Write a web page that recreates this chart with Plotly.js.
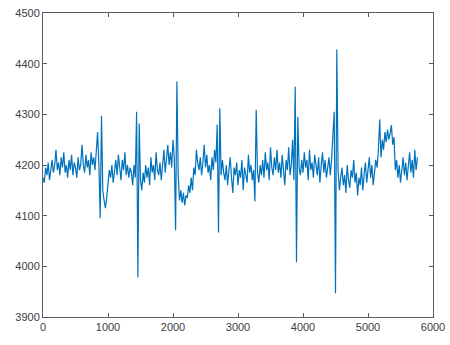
<!DOCTYPE html>
<html>
<head>
<meta charset="utf-8">
<script src="https://cdn.plot.ly/plotly-3.0.1.min.js"></script>
<style>html,body{margin:0;padding:0;background:#fff;}#chart{width:450px;height:345px;}</style>
</head>
<body>
<div id="chart"></div>
<script>
// Sample spacing (x units) and start of the signal
var xStart = 0;
var xStep = 20;

// Signal values, one per sample
var signal = [
  4175,4165,4195,4180,4205,4170,4190,4210,4185,4200,
  4230,4190,4205,4180,4215,4195,4225,4185,4200,4175,
  4210,4190,4220,4180,4205,4195,4175,4215,4190,4200,
  4240,4200,4185,4220,4195,4210,4180,4225,4200,4215,
  4190,4230,4265,4200,4095,4297,4150,4130,4115,4135,
  4160,4190,4175,4200,4165,4185,4210,4180,4220,4195,
  4170,4210,4190,4225,4180,4200,4175,4195,4185,4160,
  4200,4175,4305,3978,4282,4170,4150,4185,4165,4200,
  4175,4195,4160,4215,4185,4200,4170,4225,4190,4180,
  4205,4170,4195,4230,4185,4210,4240,4200,4225,4195,
  4250,4215,4071,4365,4180,4130,4150,4125,4145,4120,
  4140,4135,4160,4145,4175,4150,4195,4180,4230,4205,
  4190,4215,4180,4205,4240,4195,4220,4185,4200,4170,
  4215,4190,4230,4205,4280,4067,4312,4180,4210,4185,
  4170,4200,4160,4190,4215,4175,4145,4195,4180,4205,
  4160,4190,4175,4210,4150,4195,4180,4165,4220,4185,
  4200,4170,4190,4128,4309,4185,4165,4200,4180,4210,
  4175,4225,4190,4205,4170,4235,4195,4180,4215,4190,
  4230,4185,4205,4175,4220,4195,4160,4210,4190,4235,
  4180,4200,4250,4170,4355,4008,4295,4195,4180,4210,
  4185,4225,4195,4210,4170,4230,4190,4205,4175,4220,
  4195,4180,4215,4165,4200,4225,4185,4210,4175,4195,
  4215,4180,4210,4260,4305,3947,4428,4190,4150,4175,
  4195,4160,4180,4145,4200,4170,4155,4190,4175,4210,
  4165,4185,4140,4175,4160,4195,4150,4180,4205,4165,
  4190,4215,4175,4200,4160,4185,4210,4195,4230,4290,
  4215,4250,4230,4265,4245,4270,4250,4262,4279,4240,
  4255,4190,4210,4175,4200,4165,4195,4215,4180,4205,
  4170,4195,4225,4185,4210,4175,4230,4190,4215
];

var xTicks = [0,1000,2000,3000,4000,5000,6000];
var yTicks = [3900,4000,4100,4200,4300,4400,4500];

var xs = signal.map(function(_, i){ return xStart + i * xStep; });

var axisCommon = {
  showgrid: false,
  zeroline: false,
  showline: true,
  linecolor: '#5a5a5a',
  linewidth: 1,
  mirror: 'ticks',
  ticks: 'inside',
  ticklen: 4,
  tickwidth: 1,
  tickcolor: '#5a5a5a',
  tickfont: {family: 'Liberation Sans, Arial, sans-serif', size: 11, color: '#404040'}
};

var layout = {
  width: 450, height: 345,
  margin: {l: 43, r: 17, t: 13, b: 28},
  paper_bgcolor: '#ffffff',
  plot_bgcolor: '#ffffff',
  showlegend: false,
  xaxis: Object.assign({}, axisCommon, {range: [0, 6000], tickvals: xTicks, ticktext: xTicks.map(String)}),
  yaxis: Object.assign({}, axisCommon, {range: [3900, 4500], tickvals: yTicks, ticktext: yTicks.map(String)})
};

Plotly.newPlot('chart', [{
  x: xs, y: signal, type: 'scatter', mode: 'lines',
  line: {color: '#0072BD', width: 1.2}
}], layout, {staticPlot: true, displayModeBar: false});
</script>
</body>
</html>
